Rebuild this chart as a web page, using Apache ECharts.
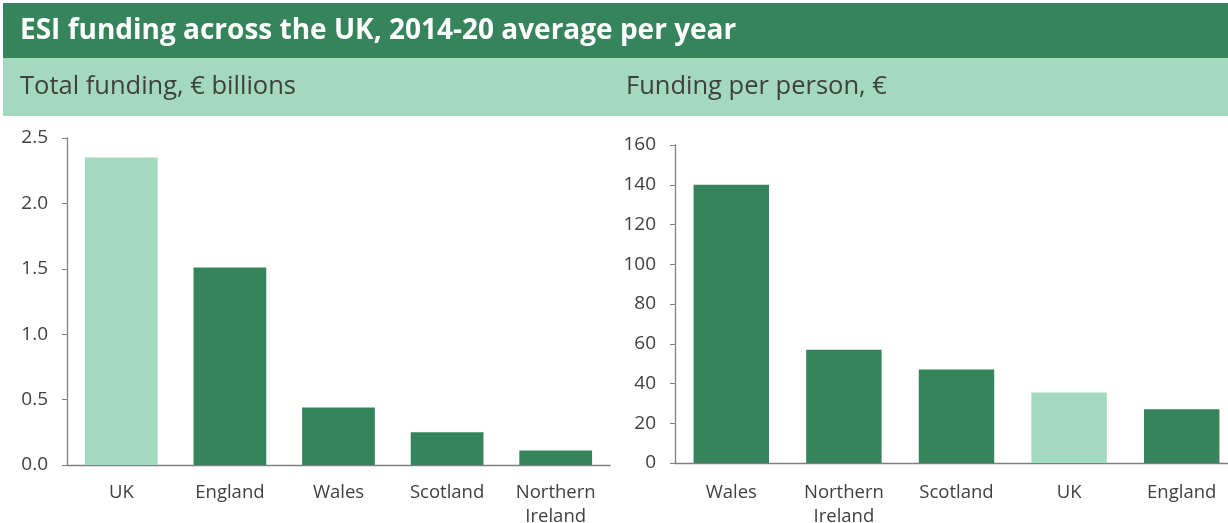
<!DOCTYPE html>
<html><head><meta charset="utf-8">
<script src="https://cdn.jsdelivr.net/npm/echarts@6/dist/echarts.min.js"></script>
<style>html,body{margin:0;padding:0;background:#fff;overflow:hidden}#c{width:1228px;height:523px}</style>
</head><body><div id="c"></div>
<script>
const mainTitle = 'ESI funding across the UK, 2014-20 average per year';
const leftSubtitle = 'Total funding, € billions';
const rightSubtitle = 'Funding per person, €';
const totalCategories = ['UK', 'England', 'Wales', 'Scotland', 'Northern\nIreland'];
const totalValues = [2.35, 1.51, 0.44, 0.25, 0.11];
const perPersonCategories = ['Wales', 'Northern\nIreland', 'Scotland', 'UK', 'England'];
const perPersonValues = [140, 57, 47, 35.5, 27];
const highlightCategory = 'UK';

const DARK = '#36845c', LIGHT = '#a3d9bf', TXT = '#404040', AX = '#808080';
const FONT = '"Open Sans", "Noto Sans", sans-serif';

function barData(cats, vals) {
  return vals.map((v, i) => ({ value: v, itemStyle: { color: cats[i] === highlightCategory ? LIGHT : DARK } }));
}
function xAxis(gi, cats, margin) {
  return { type: 'category', gridIndex: gi, data: cats,
    axisLine: { lineStyle: { color: AX, width: 1.3 } }, axisTick: { show: false },
    axisLabel: { color: TXT, fontFamily: FONT, fontSize: 18.5, lineHeight: 24, margin: margin, interval: 0 } };
}
function yAxis(gi, max, interval, fmt) {
  return { type: 'value', gridIndex: gi, min: 0, max: max, interval: interval,
    axisLine: { show: true, lineStyle: { color: AX, width: 1.3 } },
    axisTick: { show: true, length: 5, lineStyle: { color: AX } },
    splitLine: { show: false },
    axisLabel: { color: TXT, fontFamily: FONT, fontSize: 19, margin: 19, formatter: fmt } };
}

const chart = echarts.init(document.getElementById('c'));
chart.setOption({
  animation: false,
  graphic: [
    { type: 'rect', shape: { x: 3, y: 3, width: 1225, height: 55 }, style: { fill: DARK }, z: 0 },
    { type: 'rect', shape: { x: 3, y: 58, width: 1225, height: 58 }, style: { fill: LIGHT }, z: 0 },
    { type: 'text', x: 20, y: 31, style: { text: mainTitle, fill: '#fff', font: 'bold 28px ' + FONT, verticalAlign: 'middle' }, z: 1 },
    { type: 'text', x: 20, y: 87, style: { text: leftSubtitle, fill: TXT, font: '25.5px ' + FONT, verticalAlign: 'middle' }, z: 1 },
    { type: 'text', x: 626, y: 87, style: { text: rightSubtitle, fill: TXT, font: '25.5px ' + FONT, verticalAlign: 'middle' }, z: 1 }
  ],
  grid: [
    { left: 67, top: 138, width: 543, height: 327, outerBoundsMode: 'none', containLabel: false },
    { left: 675, top: 145, width: 563, height: 318, outerBoundsMode: 'none', containLabel: false }
  ],
  xAxis: [xAxis(0, totalCategories, 16), xAxis(1, perPersonCategories, 18)],
  yAxis: [yAxis(0, 2.5, 0.5, v => v.toFixed(1)), yAxis(1, 160, 20, v => String(v))],
  series: [
    { type: 'bar', xAxisIndex: 0, yAxisIndex: 0, data: barData(totalCategories, totalValues), barCategoryGap: '33%' },
    { type: 'bar', xAxisIndex: 1, yAxisIndex: 1, data: barData(perPersonCategories, perPersonValues), barCategoryGap: '33%' }
  ]
});
</script></body></html>
